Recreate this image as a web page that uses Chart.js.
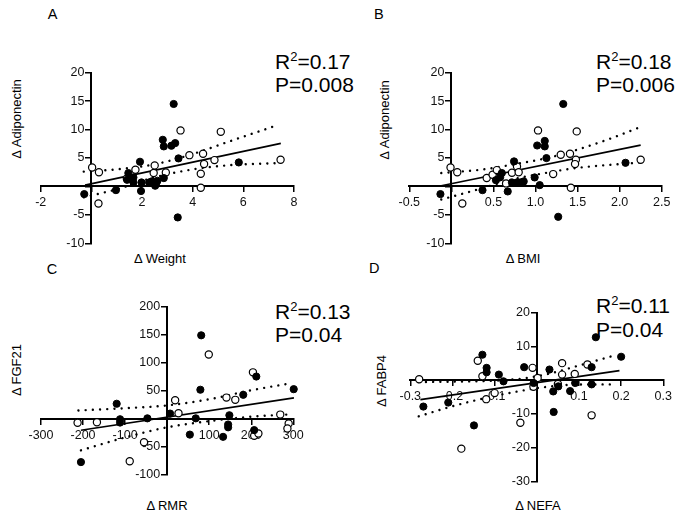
<!DOCTYPE html>
<html><head><meta charset="utf-8">
<script src="https://cdn.jsdelivr.net/npm/chart.js@4.4.0/dist/chart.umd.min.js"></script>
<style>
html,body{margin:0;padding:0;background:#fff;}
#wrap{position:relative;width:683px;height:516px;overflow:hidden;font-family:"Liberation Sans",Arial,sans-serif;color:#000;}
#wrap canvas{position:absolute;left:0;top:0;}
.t{position:absolute;white-space:nowrap;line-height:1;}
.stat{font-size:21px;}
.stat sup{font-size:13px;line-height:0;vertical-align:8px;}
.lab{font-size:14.5px;}
.ttl{font-size:13px;transform:translateX(-50%);}
.rot{font-size:13px;transform:translate(-50%,-50%) rotate(-90deg);}
</style></head>
<body>
<div id="wrap">
  <div class="t lab" style="left:47.7px;top:6.7px">A</div>
  <div class="t lab" style="left:374px;top:6.7px">B</div>
  <div class="t lab" style="left:46.7px;top:262.4px">C</div>
  <div class="t lab" style="left:369px;top:260.7px">D</div>

  <div class="t stat" style="left:275px;top:50.5px">R<sup>2</sup>=0.17</div>
  <div class="t stat" style="left:275px;top:73.9px">P=0.008</div>
  <div class="t stat" style="left:596px;top:50.5px">R<sup>2</sup>=0.18</div>
  <div class="t stat" style="left:596px;top:73.9px">P=0.006</div>
  <div class="t stat" style="left:275px;top:300.9px">R<sup>2</sup>=0.13</div>
  <div class="t stat" style="left:275px;top:323.5px">P=0.04</div>
  <div class="t stat" style="left:596px;top:295.2px">R<sup>2</sup>=0.11</div>
  <div class="t stat" style="left:596px;top:319.2px">P=0.04</div>

  <div class="t ttl" style="left:160px;top:252px">Δ Weight</div>
  <div class="t ttl" style="left:523px;top:252px">Δ BMI</div>
  <div class="t ttl" style="left:167px;top:498.5px">Δ RMR</div>
  <div class="t ttl" style="left:538px;top:498.5px">Δ NEFA</div>
  <div class="t rot" style="left:16px;top:119px">Δ Adiponectin</div>
  <div class="t rot" style="left:384px;top:120px">Δ Adiponectin</div>
  <div class="t rot" style="left:16px;top:370px">Δ FGF21</div>
  <div class="t rot" style="left:381px;top:381px">Δ FABP4</div>
</div>
<script>
// ---------- Panel A: Δ Weight vs Δ Adiponectin ----------
const aFilledX = [-0.28, 0.97, 1.41, 1.46, 1.66, 1.66, 1.92, 1.96, 1.98, 2.28, 2.39, 2.52, 2.56, 2.61, 2.86, 2.82, 2.86, 3.16, 3.31, 3.25, 3.44, 3.41, 5.82];
const aFilledY = [-1.35, -0.65, 1.17, 2.35, 1.58, 0.7, 4.34, -0.8, 0.7, 0.7, 0.9, 0.12, 0.55, 1.0, 1.47, 8.2, 7.04, 7.16, 7.62, 14.5, 4.93, -5.45, 4.22];
const aOpenX = [0.03, 0.3, 0.28, 1.4, 1.74, 2.46, 2.5, 2.94, 3.52, 3.87, 4.32, 4.32, 4.41, 4.45, 4.86, 5.11, 7.47];
const aOpenY = [3.34, 2.5, -3.0, 1.4, 2.93, 2.35, 3.7, 2.46, 9.85, 5.5, 2.23, -0.23, 5.75, 3.93, 4.63, 9.6, 4.69];
const aFitX = [-0.25, 7.48];
const aFitY = [0.23, 7.57];
const aUpperX = [-0.3, 1, 2.5, 4, 5.5, 7.4];
const aUpperY = [2.6, 3.0, 3.9, 5.7, 8.0, 10.85];
const aLowerX = [-0.3, 1, 2.5, 4, 5.5, 7.4];
const aLowerY = [-1.9, -0.5, 1.6, 3.0, 3.75, 4.1];

// ---------- Panel B: Δ BMI vs Δ Adiponectin ----------
const bFilledX = [-0.13, 0.37, 0.53, 0.58, 0.6, 0.67, 0.72, 0.745, 0.78, 0.82, 0.86, 0.99, 1.05, 1.02, 1.11, 1.11, 1.13, 1.33, 1.27, 2.07];
const bFilledY = [-1.35, -0.65, 1.1, 1.6, 2.35, -0.88, 0.7, 4.4, 0.7, 0.7, 0.88, 1.58, 0.23, 7.2, 8.0, 7.04, 4.98, 14.5, -5.34, 4.16];
const bOpenX = [-0.01, 0.07, 0.13, 0.42, 0.49, 0.54, 0.65, 0.72, 0.78, 0.8, 1.03, 1.21, 1.3, 1.41, 1.49, 1.48, 1.47, 1.42, 2.25];
const bOpenY = [3.34, 2.5, -3.0, 1.47, 2.05, 2.87, 0.53, 2.4, 3.5, 2.5, 9.85, 2.17, 5.57, 5.75, 9.68, 4.69, 3.93, -0.23, 4.69];
const bFitX = [-0.12, 2.25];
const bFitY = [0.12, 7.27];
const bUpperX = [-0.12, 0.38, 0.75, 1.17, 1.46, 1.85, 2.24];
const bUpperY = [2.35, 3.0, 3.9, 5.1, 6.3, 8.2, 10.4];
const bLowerX = [-0.12, 0.26, 0.75, 1.17, 1.46, 2.24];
const bLowerY = [-2.3, -0.76, 1.3, 2.5, 3.2, 4.2];

// ---------- Panel C: Δ RMR vs Δ FGF21 ----------
const cFilledX = [-205, -120, -112, -112, -47, 7, 54, 68, 79, 81, 133, 145, 145, 148, 181, 207, 212, 301];
const cFilledY = [-77, 27, -0.6, -6.5, 1, 9.5, -28, 1, 52, 149, -32, -10, -15, 6.5, 43, -20, 75.5, 53];
const cOpenX = [-213, -167, -89, -55, 19, 27, 99, 141, 162, 204, 207, 217, 269, 289, 286];
const cOpenY = [-7, -6, -75.5, -41.6, 33.3, 10, 114.7, 38, 34, 83, -30, -26, 7.7, -8.3, -17];
const cFitX = [-205, 301.5];
const cFitY = [-20.2, 37.4];
const cUpperX = [-211, -100, 0, 100, 200, 290];
const cUpperY = [15, 19, 24, 35, 51, 63];
const cLowerX = [-205, -100, 0, 100, 200, 290];
const cLowerY = [-56, -33, -15, -4, 4, 8];

// ---------- Panel D: Δ NEFA vs Δ FABP4 ----------
const dFilledX = [-0.269, -0.21, -0.149, -0.129, -0.119, -0.119, -0.09, -0.079, -0.03, -0.0075, 0.03, 0.039, 0.04, 0.051, 0.079, 0.091, 0.13, 0.13, 0.14, 0.2];
const dFilledY = [-7.8, -6.6, -13.4, 7.6, 3.7, 2.4, 1.7, -0.3, 3.9, -0.8, 3.2, -3.3, -9.4, -1.8, -3.2, -0.8, 3.9, -1.2, 12.8, 7.0];
const dOpenX = [-0.279, -0.179, -0.14, -0.129, -0.12, -0.1, -0.039, -0.01, -0.008, 0.002, 0.05, 0.06, 0.06, 0.09, 0.12, 0.13];
const dOpenY = [0.3, -20.3, 5.8, 1.2, -5.6, -3.8, -12.6, 3.7, -1.9, 0.7, -1.1, 5.1, 1.7, 1.9, 4.7, -10.4];
const dFitX = [-0.276, 0.196];
const dFitY = [-5.74, 2.87];
const dUpperX = [-0.28, -0.2, -0.1, -0.03, 0.03, 0.1, 0.19];
const dUpperY = [-0.5, -0.4, -0.1, 0.6, 2.0, 4.4, 7.6];
const dLowerX = [-0.28, -0.2, -0.12, -0.045, 0.02, 0.09, 0.19];
const dLowerY = [-10.7, -7.7, -5.2, -3.3, -2.0, -1.3, -1.2];

// tick ranges
const aXTicks = {min: -2, max: 8, step: 2};
const aYTicks = {min: -10, max: 20, step: 5};
const bXTicks = {min: -0.5, max: 2.5, step: 0.5};
const bYTicks = {min: -10, max: 20, step: 5};
const cXTicks = {min: -300, max: 300, step: 100};
const cYTicks = {min: -100, max: 200, step: 50};
const dXTicks = {min: -0.3, max: 0.3, step: 0.1};
const dYTicks = {min: -30, max: 20, step: 10};

Chart.defaults.font.family = '"Liberation Sans", Arial, sans-serif';

const pts = (xs, ys) => xs.map((x, i) => ({x: x, y: ys[i]}));
const fmtInt = v => (Math.abs(v) < 1e-9 ? '' : String(Math.round(v)));
const fmt1 = v => (Math.abs(v) < 1e-9 ? '' : Number(v).toFixed(1));
// y labels of a centred axis are right-aligned on the axis line itself: pad them away from it
const fmtY = v => (Math.abs(v) < 1e-9 ? '' : String(Math.round(v)) + '  ');

function axis(t, pos, fmt, isX) {
  return {
    type: 'linear',
    position: pos,
    min: t.min, max: t.max,
    ticks: {
      stepSize: t.step, autoSkip: false, maxRotation: 0, minRotation: 0,
      color: '#111', font: {size: 12.5}, padding: isX ? 4 : 2,
      callback: fmt
    },
    grid: {drawOnChartArea: false, drawTicks: true, tickLength: 5, color: '#000', lineWidth: 1.5},
    border: {display: true, color: '#000', width: 2}
  };
}

function panel(o) {
  const wrap = document.getElementById('wrap');
  const c = document.createElement('canvas');
  c.width = 683; c.height = 516;
  wrap.appendChild(c);
  const band = (xs, ys) => ({data: pts(xs, ys), showLine: true, borderColor: '#000', borderWidth: 2.4,
    borderDash: [0.01, 7.2], borderCapStyle: 'round', pointRadius: 0, clip: false, cubicInterpolationMode: 'monotone'});
  new Chart(c, {
    type: 'scatter',
    data: {datasets: [
      {data: pts(o.fx, o.fy), pointRadius: 3.6, pointBackgroundColor: '#000', pointBorderColor: '#000', pointBorderWidth: 1, showLine: false, clip: false},
      {data: pts(o.ox, o.oy), pointRadius: 3.6, pointBackgroundColor: '#fff', pointBorderColor: '#000', pointBorderWidth: 1.2, showLine: false, clip: false},
      {data: pts(o.lx, o.ly), showLine: true, borderColor: '#000', borderWidth: 1.7, pointRadius: 0, clip: false},
      band(o.ux, o.uy),
      band(o.wx, o.wy)
    ]},
    options: {
      responsive: false, animation: false, devicePixelRatio: 1,
      layout: {padding: o.pad},
      plugins: {legend: {display: false}, tooltip: {enabled: false}},
      scales: {
        x: axis(o.xt, {y: 0}, o.xf, true),
        y: axis(o.yt, {x: 0}, fmtY, false)
      }
    }
  });
}

panel({fx: aFilledX, fy: aFilledY, ox: aOpenX, oy: aOpenY, lx: aFitX, ly: aFitY,
  ux: aUpperX, uy: aUpperY, wx: aLowerX, wy: aLowerY, xt: aXTicks, yt: aYTicks, xf: fmtInt,
  pad: {left: 40.7, right: 389, top: 72.7, bottom: 272.7}});
panel({fx: bFilledX, fy: bFilledY, ox: bOpenX, oy: bOpenY, lx: bFitX, ly: bFitY,
  ux: bUpperX, uy: bUpperY, wx: bLowerX, wy: bLowerY, xt: bXTicks, yt: bYTicks, xf: fmt1,
  pad: {left: 409.3, right: 21.3, top: 72.7, bottom: 272.7}});
panel({fx: cFilledX, fy: cFilledY, ox: cOpenX, oy: cOpenY, lx: cFitX, ly: cFitY,
  ux: cUpperX, uy: cUpperY, wx: cLowerX, wy: cLowerY, xt: cXTicks, yt: cYTicks, xf: fmtInt,
  pad: {left: 41, right: 389.7, top: 306.7, bottom: 41}});
panel({fx: dFilledX, fy: dFilledY, ox: dOpenX, oy: dOpenY, lx: dFitX, ly: dFitY,
  ux: dUpperX, uy: dUpperY, wx: dLowerX, wy: dLowerY, xt: dXTicks, yt: dYTicks, xf: fmt1,
  pad: {left: 410.3, right: 19.7, top: 313, bottom: 34.7}});
</script>
</body></html>
